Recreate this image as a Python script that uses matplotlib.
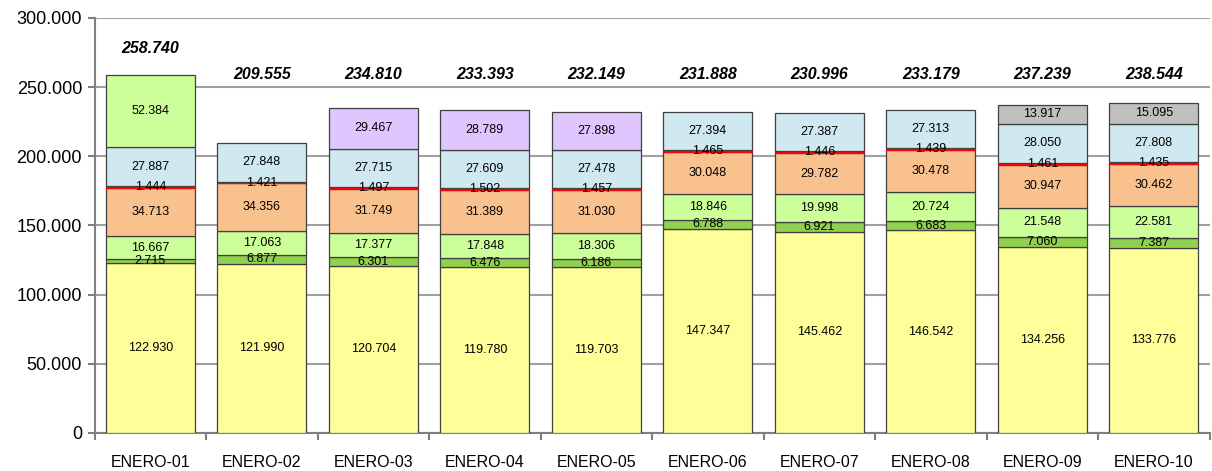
import matplotlib.pyplot as plt
import numpy as np

plt.rcParams["font.family"] = ["Liberation Sans", "DejaVu Sans"]

# ----- Daten -----------------------------------------------------------------
categorias = ["ENERO-01", "ENERO-02", "ENERO-03", "ENERO-04", "ENERO-05",
              "ENERO-06", "ENERO-07", "ENERO-08", "ENERO-09", "ENERO-10"]

amarillo = [122930, 121990, 120704, 119780, 119703, 147347, 145462, 146542, 134256, 133776]
verde_oscuro = [2715, 6877, 6301, 6476, 6186, 6788, 6921, 6683, 7060, 7387]
verde_claro = [16667, 17063, 17377, 17848, 18306, 18846, 19998, 20724, 21548, 22581]
naranja = [34713, 34356, 31749, 31389, 31030, 30048, 29782, 30478, 30947, 30462]
rojo = [1444, 1421, 1497, 1502, 1457, 1465, 1446, 1439, 1461, 1435]
azul = [27887, 27848, 27715, 27609, 27478, 27394, 27387, 27313, 28050, 27808]
superior_verde = [52384, 0, 0, 0, 0, 0, 0, 0, 0, 0]
superior_lila = [0, 0, 29467, 28789, 27898, 0, 0, 0, 0, 0]
superior_gris = [0, 0, 0, 0, 0, 0, 0, 0, 13917, 15095]

# Totales tal como aparecen en el gráfico
totales = [258740, 209555, 234810, 233393, 232149, 231888, 230996, 233179, 237239, 238544]

series = [
    (amarillo, "#FFFF99"),
    (verde_oscuro, "#92D050"),
    (verde_claro, "#CCFF99"),
    (naranja, "#F8C18E"),
    (rojo, "#FF0000"),
    (azul, "#D0E8F0"),
    (superior_verde, "#CCFF99"),
    (superior_lila, "#E0C6FF"),
    (superior_gris, "#BFBFBF"),
]


def fmt(v):
    return f"{v:,.0f}".replace(",", ".")


# ----- Plot ------------------------------------------------------------------
fig = plt.figure(figsize=(12.12, 4.71), dpi=100)
ax = fig.add_axes([0.078, 0.081, 0.92, 0.881])

x = np.arange(len(categorias))
bottom = np.zeros(len(categorias))
for vals, color in series:
    vals = np.array(vals, dtype=float)
    mask = vals > 0
    edge = "#FF0000" if color == "#FF0000" else "#404040"
    ax.bar(x[mask], vals[mask], bottom=bottom[mask], width=0.8, color=color,
           edgecolor=edge, linewidth=0.9, zorder=3)
    for xi, v, b in zip(x[mask], vals[mask], bottom[mask]):
        ax.text(xi, b + v / 2, fmt(v), ha="center", va="center",
                fontsize=9, color="black", zorder=5)
    bottom += vals

# Totales
for xi, tot, top in zip(x, totales, bottom):
    ax.text(xi, max(top, 240000) + 19000, fmt(tot), ha="center", va="center",
            fontsize=11.5, fontweight="bold", fontstyle="italic", zorder=5)

ax.set_xlim(-0.5, len(categorias) - 0.5)
ax.set_ylim(0, 300000)
ax.set_yticks(np.arange(0, 300001, 50000))
ax.set_yticklabels([fmt(v) for v in np.arange(0, 300001, 50000)], fontsize=13)
ax.grid(True, axis="y", color="#A0A0A0", linewidth=1.5, zorder=0)

ax.set_xticks(x)
ax.set_xticklabels(categorias, fontsize=11.5)
ax.tick_params(axis="x", length=0, pad=16)
ax.set_xticks(np.arange(-0.5, len(categorias), 1), minor=True)
ax.tick_params(axis="x", which="minor", length=5, color="#808080", width=1.5)
ax.tick_params(axis="y", length=5, color="#808080", width=1.5, pad=4)

for s in ["top", "right"]:
    ax.spines[s].set_visible(False)
for s in ["left", "bottom"]:
    ax.spines[s].set_color("#808080")
    ax.spines[s].set_linewidth(1.5)

plt.savefig("out.png", dpi=100)
